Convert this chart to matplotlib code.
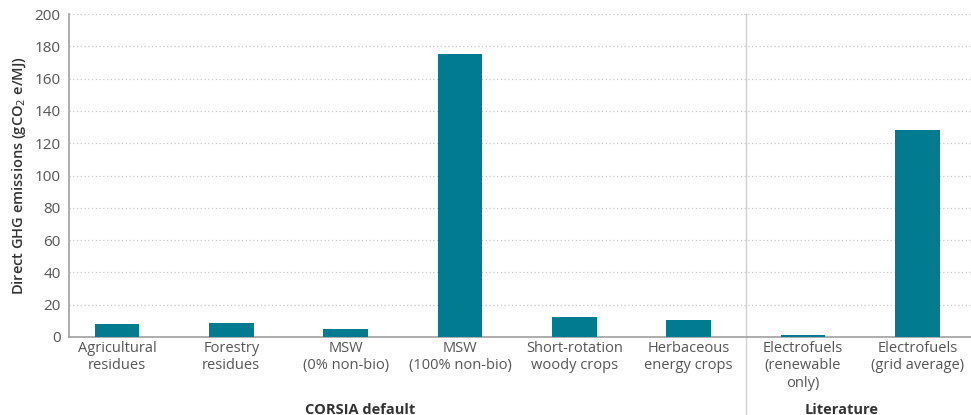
import matplotlib
matplotlib.use('Agg')
import matplotlib.pyplot as plt
import numpy as np

plt.rcParams['font.family'] = ['Open Sans', 'DejaVu Sans']

categories = ['Agricultural\nresidues', 'Forestry\nresidues', 'MSW\n(0% non-bio)',
              'MSW\n(100% non-bio)', 'Short-rotation\nwoody crops', 'Herbaceous\nenergy crops',
              'Electrofuels\n(renewable\nonly)', 'Electrofuels\n(grid average)']
emissions = [7.8, 8.7, 5.0, 175.6, 12.2, 10.3, 1.5, 128.0]
groups = ['CORSIA default', 'Literature']
group_pos = [2.13, 6.34]

teal = '#007B8F'
grey = '#555555'

fig = plt.figure(figsize=(9.71, 4.15), dpi=100)
ax = fig.add_axes([0.071, 0.188, 0.929, 0.778])

x = np.arange(len(categories))
ax.bar(x, emissions, width=0.39, color=teal, zorder=3)

ax.set_xlim(-0.42, 7.47)
ax.set_ylim(0, 200)
ax.set_yticks(np.arange(0, 201, 20))
ax.set_xticks(x)
ax.set_xticklabels(categories, fontsize=10.5, color=grey, linespacing=1.2)
ax.tick_params(axis='y', labelsize=11, labelcolor=grey, length=0, pad=6)
ax.tick_params(axis='x', length=0, pad=3)

ax.yaxis.grid(True, linestyle=(0, (1, 2)), color='#c8c8c8', lw=0.9, zorder=0)
for s in ['top', 'right']:
    ax.spines[s].set_visible(False)
ax.spines['left'].set_color('#a0a0a0')
ax.spines['bottom'].set_color('#a0a0a0')
ax.spines['left'].set_linewidth(1.2)
ax.spines['bottom'].set_linewidth(1.2)

ax.set_ylabel(r'Direct GHG emissions (gCO$_2$ e/MJ)', fontsize=10.5, color='#333333',
              fontweight='semibold', labelpad=5)

# separator between groups
ax.plot([5.5, 5.5], [-0.255, 1], transform=ax.get_xaxis_transform(), color='#d0d0d0',
        lw=1, clip_on=False, zorder=1)

for name, pos in zip(groups, group_pos):
    ax.text(pos, -0.225, name, transform=ax.get_xaxis_transform(),
            ha='center', va='center', fontsize=10.5, fontweight='bold', color='#333333')

fig.savefig('out.png', dpi=100)
